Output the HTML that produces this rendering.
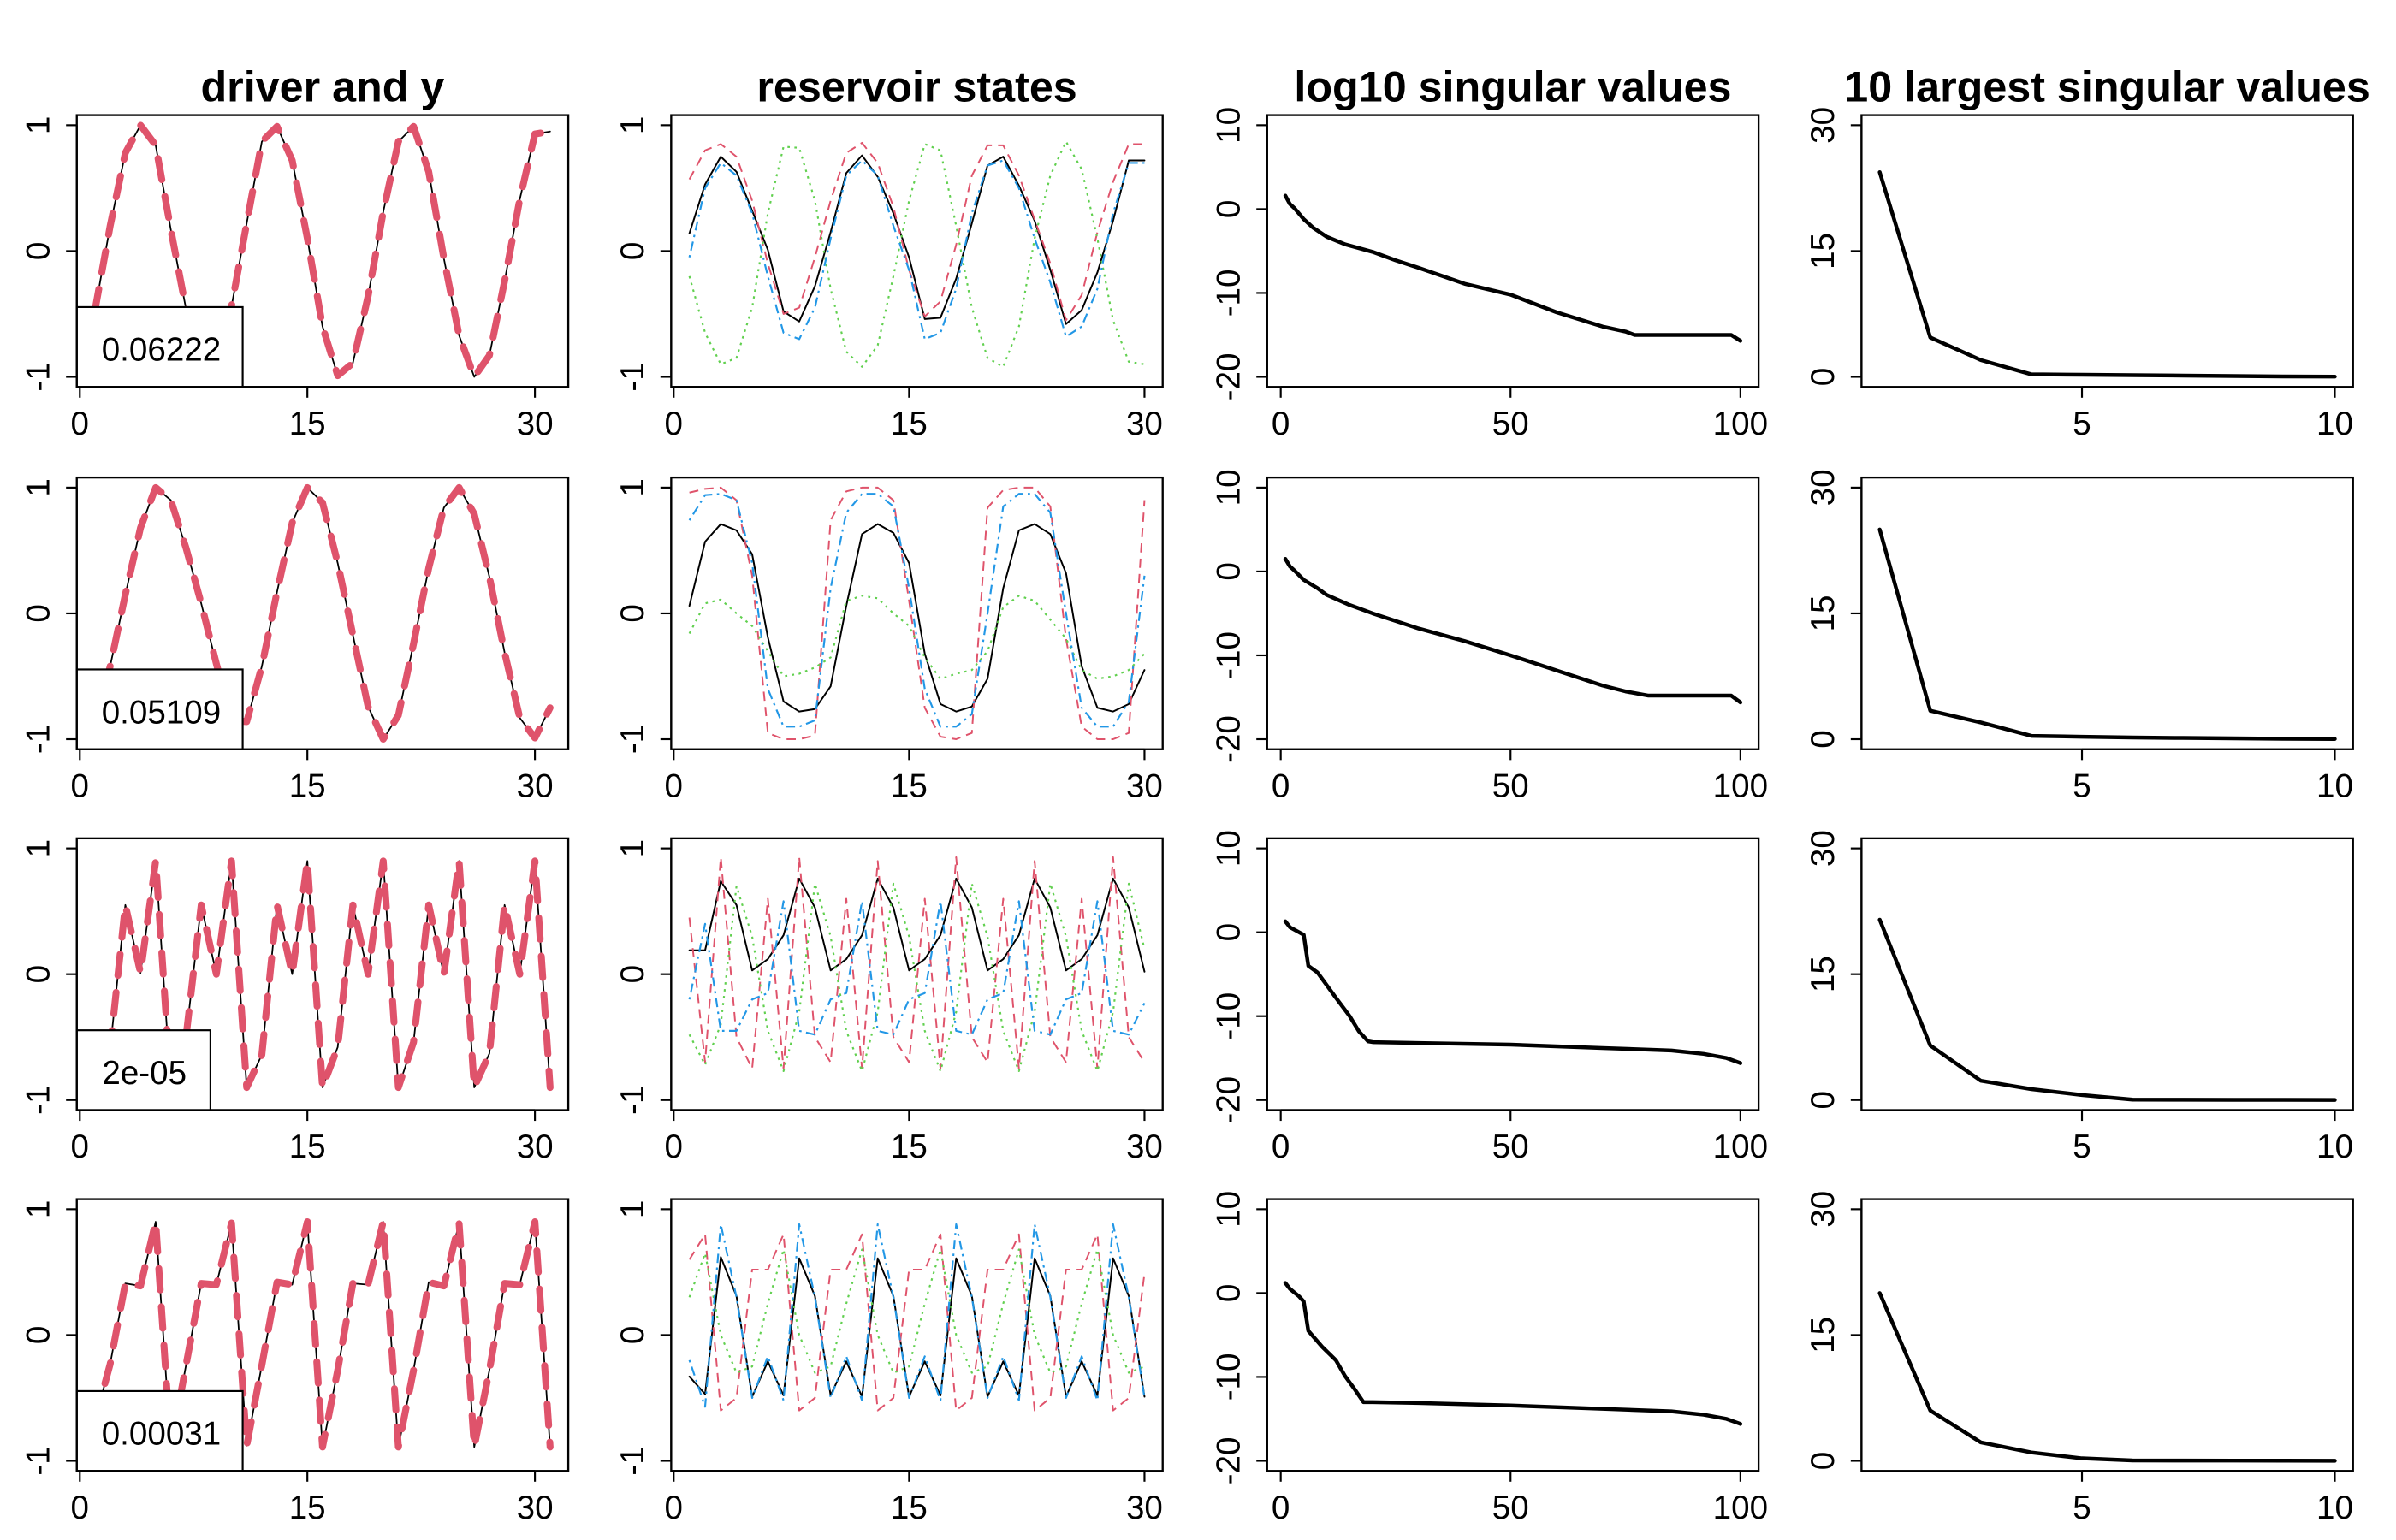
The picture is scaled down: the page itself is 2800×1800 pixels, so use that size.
<!DOCTYPE html>
<html><head><meta charset="utf-8"><style>
html,body{margin:0;padding:0;background:#fff}
svg{display:block}
text{font-family:"Liberation Sans",Arial,sans-serif;fill:#000}
</style></head><body>
<svg id="chart" xmlns="http://www.w3.org/2000/svg" width="2800" height="1800" viewBox="0 0 1560 1003" preserveAspectRatio="none"></svg>
<script>
// ---- data ----
const titles = ["driver and y","reservoir states","log10 singular values","10 largest singular values"];
const errLabels = ["0.06222","0.05109","2e-05","0.00031"];
const xTicks1 = [0,15,30], yTicks1 = [-1,0,1];
const xTicks3 = [0,50,100], yTicks3 = [-20,-10,0,10];
const xTicks4 = [5,10], yTicks4 = [0,15,30];

const driver1 = [-0.47,0.2,0.78,1.0,0.84,0.17,-0.46,-0.95,-0.8,-0.44,0.22,0.87,0.99,0.72,0.1,-0.6,-0.99,-0.89,-0.36,0.31,0.87,0.99,0.63,-0.06,-0.67,-1.0,-0.83,-0.24,0.41,0.93,0.95];
const yhat1   = [-0.47,0.2,0.78,1.0,0.84,0.17,-0.46,-0.95,-0.8,-0.44,0.22,0.87,0.99,0.72,0.1,-0.6,-0.99,-0.89,-0.36,0.31,0.87,0.99,0.63,-0.06,-0.67,-1.0,-0.83,-0.24,0.41,0.93,0.95];
const driver2 = [-0.88,-0.42,0.15,0.68,1.0,0.9,0.52,0.08,-0.4,-0.85,-0.86,-0.42,0.17,0.72,1.0,0.88,0.4,-0.17,-0.74,-1.0,-0.81,-0.24,0.36,0.84,1.0,0.79,0.29,-0.31,-0.83,-0.99,-0.75];
const yhat2   = [-0.88,-0.42,0.15,0.68,1.0,0.9,0.52,0.08,-0.4,-0.85,-0.86,-0.42,0.17,0.72,1.0,0.88,0.4,-0.17,-0.74,-1.0,-0.81,-0.24,0.36,0.84,1.0,0.79,0.29,-0.31,-0.83,-0.99,-0.75];
const driver3 = [-0.9,-0.59,0.55,0.01,0.9,-0.9,-0.5,0.55,0.0,0.9,-0.9,-0.64,0.55,0.0,0.9,-0.9,-0.58,0.55,0.0,0.9,-0.9,-0.54,0.55,0.0,0.9,-0.9,-0.63,0.55,0.0,0.9,-0.9];
const yhat3   = [-0.9,-0.59,0.55,0.01,0.9,-0.9,-0.5,0.55,0.0,0.9,-0.9,-0.64,0.55,0.0,0.9,-0.9,-0.58,0.55,0.0,0.9,-0.9,-0.54,0.55,0.0,0.9,-0.9,-0.63,0.55,0.0,0.9,-0.9];
const driver4 = [-0.68,-0.23,0.41,0.39,0.9,-0.9,-0.24,0.41,0.4,0.89,-0.88,-0.24,0.42,0.4,0.9,-0.89,-0.28,0.41,0.4,0.9,-0.89,-0.28,0.42,0.39,0.89,-0.89,-0.28,0.41,0.4,0.9,-0.89];
const yhat4   = [-0.68,-0.23,0.41,0.39,0.9,-0.9,-0.24,0.41,0.4,0.89,-0.88,-0.24,0.42,0.4,0.9,-0.89,-0.28,0.41,0.4,0.9,-0.89,-0.28,0.42,0.39,0.89,-0.89,-0.28,0.41,0.4,0.9,-0.89];

const r1Black = [0.14,0.53,0.75,0.63,0.32,0.01,-0.48,-0.56,-0.28,0.15,0.62,0.76,0.59,0.3,-0.05,-0.54,-0.53,-0.22,0.22,0.68,0.75,0.52,0.24,-0.15,-0.58,-0.47,-0.17,0.24,0.72,0.72];
const r1Red   = [0.57,0.8,0.85,0.75,0.4,-0.1,-0.5,-0.45,-0.05,0.4,0.78,0.86,0.7,0.35,-0.15,-0.52,-0.4,0.05,0.6,0.84,0.84,0.6,0.25,-0.1,-0.55,-0.35,0.15,0.55,0.85,0.85];
const r1Green = [-0.2,-0.65,-0.9,-0.85,-0.45,0.3,0.83,0.82,0.4,-0.3,-0.8,-0.92,-0.75,-0.2,0.4,0.85,0.8,0.2,-0.45,-0.85,-0.92,-0.6,0.1,0.6,0.87,0.65,0.1,-0.55,-0.88,-0.9];
const r1Blue  = [-0.05,0.5,0.7,0.6,0.3,-0.2,-0.65,-0.7,-0.45,0.1,0.6,0.72,0.6,0.2,-0.15,-0.7,-0.65,-0.3,0.3,0.68,0.72,0.5,0.1,-0.25,-0.68,-0.6,-0.3,0.3,0.7,0.7];

const r2Black = [0.06,0.57,0.71,0.66,0.47,-0.19,-0.7,-0.78,-0.76,-0.58,0.06,0.63,0.71,0.64,0.4,-0.32,-0.72,-0.78,-0.74,-0.52,0.2,0.66,0.71,0.63,0.32,-0.42,-0.75,-0.78,-0.72,-0.45];
const r2Red   = [0.96,0.99,1.0,0.9,0.3,-0.95,-1.0,-1.0,-0.97,0.74,0.97,1.0,1.0,0.9,0.1,-0.75,-0.98,-1.0,-0.95,0.84,0.98,1.0,1.0,0.85,-0.2,-0.9,-1.0,-1.0,-0.95,0.9];
const r2Green = [-0.16,0.08,0.11,0.0,-0.1,-0.3,-0.5,-0.48,-0.43,-0.35,0.1,0.14,0.12,0.0,-0.1,-0.35,-0.52,-0.48,-0.45,-0.3,0.05,0.14,0.1,-0.05,-0.2,-0.45,-0.52,-0.5,-0.45,-0.32];
const r2Blue  = [0.74,0.94,0.95,0.9,0.4,-0.6,-0.9,-0.9,-0.85,0.2,0.8,0.95,0.95,0.85,0.2,-0.6,-0.9,-0.9,-0.8,0.0,0.85,0.95,0.95,0.8,0.0,-0.75,-0.9,-0.9,-0.7,0.3];

const r3Black = [0.19,0.19,0.74,0.55,0.03,0.12,0.31,0.76,0.53,0.03,0.12,0.31,0.76,0.53,0.03,0.12,0.31,0.76,0.53,0.03,0.12,0.31,0.76,0.53,0.03,0.12,0.31,0.76,0.53,0.02];
const r3Red   = [0.45,-0.7,0.93,-0.5,-0.75,0.6,-0.75,0.93,-0.5,-0.7,0.6,-0.75,0.9,-0.5,-0.7,0.6,-0.75,0.93,-0.5,-0.7,0.6,-0.75,0.9,-0.5,-0.7,0.6,-0.75,0.93,-0.5,-0.7];
const r3Green = [-0.48,-0.72,-0.4,0.7,0.3,-0.45,-0.77,-0.3,0.72,0.3,-0.45,-0.77,-0.3,0.72,0.3,-0.45,-0.77,-0.3,0.72,0.3,-0.45,-0.77,-0.3,0.72,0.3,-0.45,-0.77,-0.3,0.72,0.2];
const r3Blue  = [-0.2,0.4,-0.45,-0.45,-0.2,-0.15,0.58,-0.45,-0.48,-0.2,-0.15,0.58,-0.45,-0.48,-0.2,-0.15,0.58,-0.45,-0.48,-0.2,-0.15,0.58,-0.45,-0.48,-0.2,-0.15,0.58,-0.45,-0.48,-0.23];

const r4Black = [-0.33,-0.47,0.62,0.31,-0.49,-0.21,-0.48,0.61,0.31,-0.48,-0.21,-0.49,0.61,0.31,-0.49,-0.21,-0.48,0.61,0.31,-0.49,-0.21,-0.48,0.61,0.31,-0.49,-0.21,-0.48,0.61,0.31,-0.49];
const r4Red   = [0.6,0.8,-0.6,-0.5,0.52,0.52,0.8,-0.6,-0.5,0.52,0.52,0.8,-0.6,-0.5,0.52,0.52,0.8,-0.6,-0.5,0.52,0.52,0.8,-0.6,-0.5,0.52,0.52,0.8,-0.6,-0.5,0.49];
const r4Green = [0.3,0.65,0.0,-0.3,-0.25,0.25,0.68,0.0,-0.3,-0.25,0.25,0.68,0.0,-0.3,-0.25,0.25,0.68,0.0,-0.3,-0.25,0.25,0.68,0.0,-0.3,-0.25,0.25,0.68,0.0,-0.3,-0.25];
const r4Blue  = [-0.2,-0.57,0.88,0.3,-0.5,-0.17,-0.52,0.88,0.3,-0.5,-0.17,-0.52,0.88,0.3,-0.5,-0.17,-0.52,0.88,0.3,-0.5,-0.17,-0.52,0.88,0.3,-0.5,-0.17,-0.52,0.88,0.3,-0.5];

const sv1Idx = [1,2,3,5,7,10,14,20,25,30,40,50,60,70,75,77,90,98,100];
const sv1Log = [1.6,0.6,0.1,-1.2,-2.2,-3.3,-4.2,-5.1,-6.1,-7.0,-8.9,-10.2,-12.3,-14.0,-14.6,-15.0,-15.0,-15.0,-15.7];
const sv2Idx = [1,2,3,5,8,10,15,20,30,40,50,60,70,75,80,90,98,100];
const sv2Log = [1.5,0.6,0.1,-1.0,-2.0,-2.8,-4.0,-5.0,-6.8,-8.3,-10.0,-11.8,-13.6,-14.3,-14.8,-14.8,-14.8,-15.6];
const sv3Idx = [1,2,4,5,6,8,10,12,15,17,19,20,30,50,70,85,92,97,100];
const sv3Log = [1.3,0.6,0.0,-0.3,-4.0,-4.8,-6.3,-7.8,-10.0,-11.8,-13.0,-13.1,-13.2,-13.4,-13.8,-14.1,-14.5,-15.0,-15.6];
const sv4Idx = [1,2,4,5,6,9,12,14,16,18,20,30,50,70,85,92,97,100];
const sv4Log = [1.2,0.5,-0.4,-1.0,-4.5,-6.4,-8.0,-9.9,-11.4,-13.0,-13.0,-13.1,-13.4,-13.8,-14.1,-14.5,-15.0,-15.6];

const top1 = [24.4,4.7,2.0,0.3,0.25,0.2,0.15,0.1,0.05,0.03];
const top2 = [25.0,3.4,2.0,0.4,0.3,0.2,0.15,0.1,0.05,0.03];
const top3 = [21.5,6.5,2.3,1.3,0.6,0.05,0.04,0.03,0.02,0.01];
const top4 = [20.0,6.0,2.2,1.0,0.3,0.05,0.04,0.03,0.02,0.01];

// ---- drawing ----
const NS = "http://www.w3.org/2000/svg";
const svg = document.getElementById("chart");
const colX = [50,437,825,1212], rowY = [75,311,546,781], W = 320, H = 177;
const RED="#DF536B", GREEN="#61D04F", BLUE="#2297E6";

function mk(tag, attrs, parent){
  const e = document.createElementNS(NS, tag);
  for (const k in attrs) e.setAttribute(k, attrs[k]);
  (parent||svg).appendChild(e);
  return e;
}
function scale(d0,d1,r0,r1){ return v => r0 + (v-d0)/(d1-d0)*(r1-r0); }
function ext(a,b){ const p=(b-a)*0.04; return [a-p,b+p]; }

function panel(ci, ri, xr, yr, xt, yt, name){
  const x0 = colX[ci], y0 = rowY[ri];
  const g = mk("g", {});
  
  
  const xe = ext(xr[0],xr[1]), ye = ext(yr[0],yr[1]);
  const sx = scale(xe[0],xe[1],x0,x0+W), sy = scale(ye[0],ye[1],y0+H,y0);
  const clip = mk("clipPath",{id:"c"+ci+ri}, g);
  mk("rect",{x:x0,y:y0,width:W,height:H}, clip);
  const plot = mk("g",{"clip-path":"url(#c"+ci+ri+")"}, g);
  // x axis
  const xa = mk("g",{}, g);
  
  
  const bY = y0+H;
  mk("line",{x1:sx(xt[0]),x2:sx(xt[xt.length-1]),y1:bY,y2:bY,stroke:"#000","stroke-width":1.2}, xa);
  xt.forEach(t=>{
    mk("line",{x1:sx(t),x2:sx(t),y1:bY,y2:bY+7,stroke:"#000","stroke-width":1.2}, xa);
    const tx = mk("text",{x:sx(t),y:bY+31,"font-size":21.5,"text-anchor":"middle"}, xa);
    tx.textContent = t;
  });
  const ya = mk("g",{}, g);
  
  
  mk("line",{x1:x0,x2:x0,y1:sy(yt[0]),y2:sy(yt[yt.length-1]),stroke:"#000","stroke-width":1.2}, ya);
  yt.forEach(t=>{
    mk("line",{x1:x0,x2:x0-7,y1:sy(t),y2:sy(t),stroke:"#000","stroke-width":1.2}, ya);
    const ty = mk("text",{x:0,y:0,"font-size":21.5,"text-anchor":"middle",transform:`translate(${x0-18},${sy(t)}) rotate(-90)`}, ya);
    ty.textContent = t;
  });
  return {g, plot, sx, sy, x0, y0};
}
function line(p, xs, ys, opts, name){
  const d = ys.map((v,i)=>(i?"L":"M")+p.sx(xs[i]).toFixed(2)+","+p.sy(v).toFixed(2)).join("");
  const a = {d, fill:"none", stroke:opts.c, "stroke-width":opts.w, "stroke-linejoin":"round", "stroke-linecap":opts.cap||"round"};
  if (opts.dash) a["stroke-dasharray"] = opts.dash;
  const e = mk("path", a, p.plot);
  
  
  return e;
}
function box(p){
  const b = mk("rect",{x:p.x0,y:p.y0,width:W,height:H,fill:"none",stroke:"#000","stroke-width":1.3}, p.g);
  
  
}
function seq(n){ const a=[]; for(let i=1;i<=n;i++) a.push(i); return a; }

// titles
titles.forEach((t,i)=>{
  const e = mk("text",{x:colX[i]+W/2,y:66,"font-size":28,"font-weight":"bold","text-anchor":"middle"});
  e.textContent = t;
  
  
});

const drivers = [driver1,driver2,driver3,driver4];
const yhats = [yhat1,yhat2,yhat3,yhat4];
const res = [[r1Black,r1Red,r1Green,r1Blue],[r2Black,r2Red,r2Green,r2Blue],[r3Black,r3Red,r3Green,r3Blue],[r4Black,r4Red,r4Green,r4Blue]];
const svIdx = [sv1Idx,sv2Idx,sv3Idx,sv4Idx], svLog = [sv1Log,sv2Log,sv3Log,sv4Log];
const tops = [top1,top2,top3,top4];

for (let r=0;r<4;r++){
  // column 1
  let p = panel(0,r,[1,31],[-1,1],xTicks1,yTicks1,"driver-panel");
  const xs31 = seq(drivers[r].length);
  line(p, xs31, drivers[r], {c:"#000", w:1}, "driver-line");
  line(p, xs31, yhats[r], {c:RED, w:4.5, dash:"14 11"}, "prediction-line");
  const lb = mk("rect",{x:p.x0,y:p.y0+H-52,width:(r==2?87:108),height:52,fill:"#fff",stroke:"#000","stroke-width":1.2}, p.g);
  
  
  const lt = mk("text",{x:p.x0+(r==2?44:55),y:p.y0+H-17,"font-size":21.5,"text-anchor":"middle"}, p.g);
  lt.textContent = errLabels[r];
  
  
  box(p);
  // column 2
  p = panel(1,r,[1,30],[-1,1],xTicks1,yTicks1,"reservoir-panel");
  const xs30 = seq(30);
  line(p, xs30, res[r][0], {c:"#000", w:1.1}, "state-1");
  line(p, xs30, res[r][1], {c:RED, w:1.1, dash:"6 4", cap:"butt"}, "state-2");
  line(p, xs30, res[r][2], {c:GREEN, w:1.2, dash:"1.5 3", cap:"butt"}, "state-3");
  line(p, xs30, res[r][3], {c:BLUE, w:1.2, dash:"1.5 3 6 3", cap:"butt"}, "state-4");
  box(p);
  // column 3
  p = panel(2,r,[1,100],[-20,10],xTicks3,yTicks3,"log-singular-panel");
  line(p, svIdx[r], svLog[r], {c:"#000", w:2.5}, "log-singular-line");
  box(p);
  // column 4
  p = panel(3,r,[1,10],[0,30],xTicks4,yTicks4,"top-singular-panel");
  line(p, seq(10), tops[r], {c:"#000", w:2.5}, "top-singular-line");
  box(p);
}
</script>
</body></html>
